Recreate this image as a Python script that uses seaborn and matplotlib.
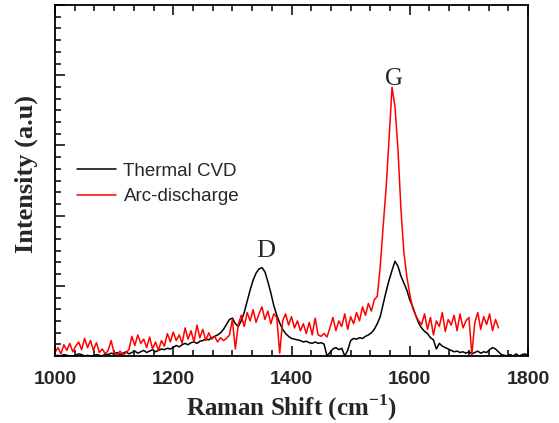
import numpy as np
import pandas as pd
import seaborn as sns
import matplotlib
matplotlib.use("Agg")
import matplotlib.pyplot as plt
from matplotlib.ticker import MultipleLocator, NullFormatter

# Raman shift grids (cm^-1)
shift_cvd = np.arange(1000, 1805, 5)
shift_arc = np.arange(1000, 1755, 5)

# Thermal CVD intensity (a.u.)
cvd = [
    0.0, 0.01, 0.0, 0.02, 0.01, 0.0, 0.0, 0.01, 0.03, 0.02,
    0.0, 0.01, 0.0, 0.0, 0.02, 0.01, 0.0, 0.03, 0.02, 0.04,
    0.03, 0.05, 0.02, 0.04, 0.06, 0.03, 0.05, 0.07, 0.04, 0.06,
    0.08, 0.05, 0.07, 0.09, 0.06, 0.08, 0.1, 0.09, 0.11, 0.1,
    0.12, 0.15, 0.13, 0.16, 0.18, 0.16, 0.19, 0.2, 0.18, 0.21,
    0.22, 0.24, 0.23, 0.26, 0.28, 0.3, 0.33, 0.38, 0.45, 0.52,
    0.54, 0.46, 0.42, 0.5, 0.62, 0.78, 0.94, 1.08, 1.18, 1.24,
    1.26, 1.2, 1.06, 0.9, 0.72, 0.58, 0.47, 0.38, 0.32, 0.28,
    0.25, 0.24, 0.23, 0.22, 0.2, 0.21, 0.19, 0.18, 0.2, 0.18,
    0.19, 0.17, 0.0, 0.05, 0.1, 0.12, 0.09, 0.11, 0.0, 0.08,
    0.22, 0.25, 0.24, 0.26, 0.25, 0.28, 0.3, 0.33, 0.38, 0.46,
    0.56, 0.74, 0.92, 1.08, 1.22, 1.35, 1.28, 1.14, 1.04, 0.94,
    0.8, 0.7, 0.58, 0.47, 0.4, 0.35, 0.32, 0.26, 0.23, 0.1,
    0.18, 0.14, 0.12, 0.1, 0.08, 0.06, 0.07, 0.05, 0.06, 0.04,
    0.06, 0.03, 0.05, 0.07, 0.04, 0.06, 0.05, 0.09, 0.12, 0.1,
    0.06, 0.02, 0.01, 0.0, 0.02, 0.0, 0.03, 0.0, 0.02, 0.03,
    0.01,
]

# Arc-discharge intensity (a.u.)
arc = [
    0.05, 0.12, 0.03, 0.16, 0.08, 0.18, 0.06, 0.14, 0.2, 0.09,
    0.25, 0.12, 0.22, 0.08, 0.19, 0.05, 0.1, 0.03, 0.08, 0.22,
    0.04, 0.02, 0.07, 0.01, 0.05, 0.09, 0.28, 0.15, 0.3, 0.18,
    0.24, 0.12, 0.27, 0.1, 0.2, 0.08, 0.22, 0.14, 0.32, 0.2,
    0.34, 0.22, 0.3, 0.18, 0.4, 0.24, 0.36, 0.2, 0.44, 0.26,
    0.38, 0.22, 0.33, 0.24, 0.28, 0.2, 0.26, 0.22, 0.25, 0.3,
    0.52, 0.1, 0.45, 0.58, 0.42, 0.62, 0.5, 0.66, 0.48, 0.6,
    0.7, 0.52, 0.64, 0.46, 0.6, 0.55, 0.04, 0.5, 0.6, 0.44,
    0.56, 0.4, 0.5, 0.36, 0.46, 0.32, 0.48, 0.3, 0.54, 0.3,
    0.28, 0.32, 0.27, 0.4, 0.55, 0.36, 0.5, 0.42, 0.6, 0.38,
    0.56, 0.46, 0.62, 0.5, 0.7, 0.58, 0.75, 0.64, 0.8, 0.85,
    1.27, 1.85, 2.4, 3.1, 3.83, 3.55, 2.95, 2.1, 1.48, 1.13,
    0.88, 0.68, 0.58, 0.5, 0.45, 0.6, 0.38, 0.55, 0.3, 0.5,
    0.42, 0.62, 0.35, 0.52, 0.44, 0.58, 0.36, 0.6, 0.4, 0.5,
    0.55, 0.02, 0.48, 0.62, 0.38, 0.56, 0.45, 0.6, 0.36, 0.52,
    0.4,
]

sns.set_style("ticks")
plt.rcParams["font.family"] = ["Liberation Sans", "DejaVu Sans"]
plt.rcParams["mathtext.fontset"] = "custom"
plt.rcParams["mathtext.rm"] = "Liberation Serif:bold"

fig = plt.figure(figsize=(5.59, 4.23), dpi=100)
ax = fig.add_axes([0.0984, 0.1584, 0.8462, 0.8296])

sns.lineplot(x=shift_cvd, y=cvd, color="black", lw=1.1, label="Thermal CVD", ax=ax)
sns.lineplot(x=shift_arc, y=arc, color="#ff0000", lw=1.1, label="Arc-discharge", ax=ax)

ax.set_xlim(1000, 1800)
ax.set_ylim(0, 5)
ax.xaxis.set_major_locator(MultipleLocator(200))
ax.xaxis.set_minor_locator(MultipleLocator(200 / 6))
ax.yaxis.set_major_locator(MultipleLocator(1))
ax.yaxis.set_minor_locator(MultipleLocator(1 / 6))
ax.yaxis.set_major_formatter(NullFormatter())
ax.tick_params(which="both", direction="in", top=True, right=False, width=1.3)
ax.tick_params(which="major", length=7)
ax.tick_params(which="minor", length=4)
ax.tick_params(axis="x", which="major", pad=11)
for lbl in ax.get_xticklabels():
    lbl.set_fontsize(14)
    lbl.set_fontweight("bold")
for sp in ax.spines.values():
    sp.set_linewidth(1.3)
    sp.set_color("black")

serif = ["Liberation Serif", "DejaVu Serif"]
ax.set_xlabel("Raman Shift (cm$^{-1}$)", family=serif, fontsize=18, fontweight="bold", labelpad=3)
ax.set_ylabel("Intensity (a.u)", family=serif, fontsize=19, fontweight="bold", labelpad=6)
ax.yaxis.set_label_coords(-0.035, 0.52)

ax.text(1357, 1.49, "D", family=serif, fontsize=19, ha="center", va="center")
ax.text(1573, 3.94, "G", family=serif, fontsize=18, ha="center", va="center")

ax.legend(loc="center left", bbox_to_anchor=(0.01, 0.49), frameon=False,
          fontsize=13.5, handlelength=2.1, handletextpad=0.4, labelspacing=0.45)

fig.savefig("out.png", dpi=100)
